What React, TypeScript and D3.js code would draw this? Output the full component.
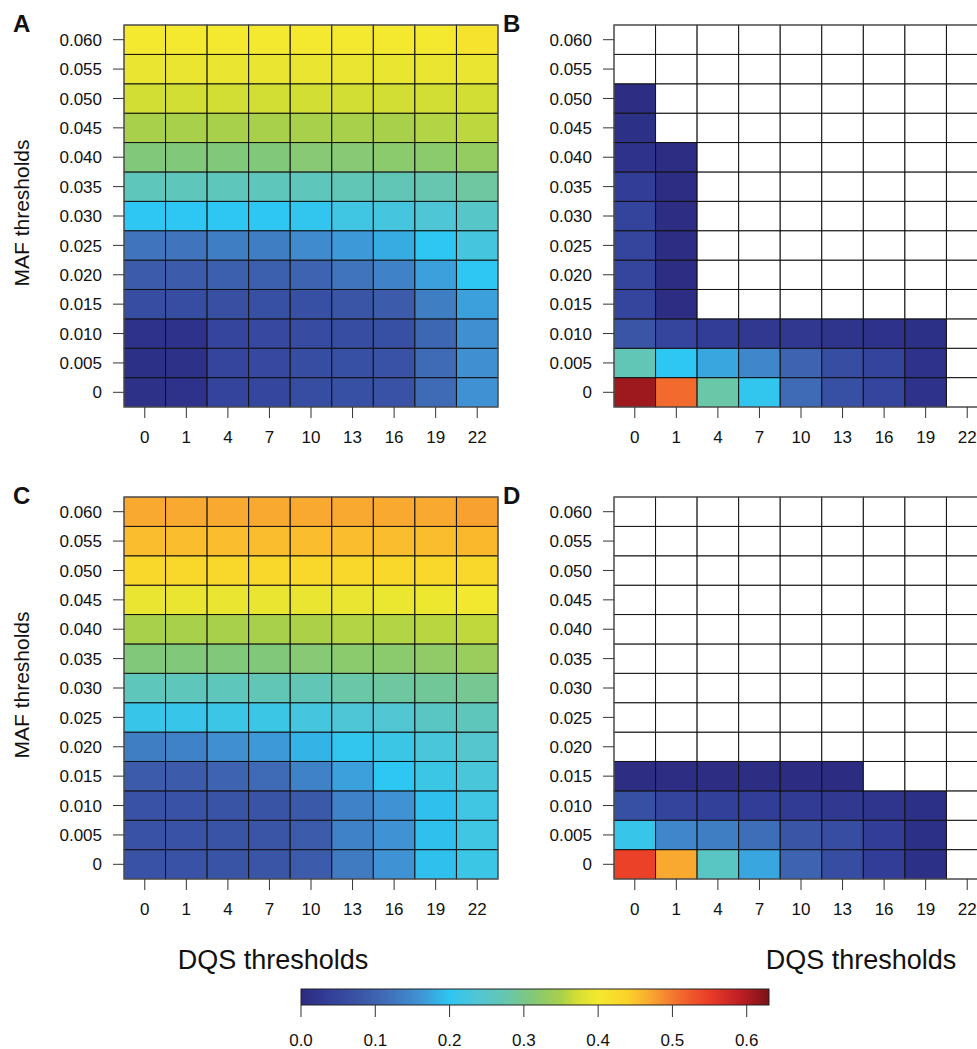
import React from "react";
import * as d3 from "d3";

const width = 977;
const height = 1049;

const dqsLabels = ["0", "1", "4", "7", "10", "13", "16", "19", "22"];
const mafLabels = ["0", "0.005", "0.010", "0.015", "0.020", "0.025", "0.030", "0.035", "0.040", "0.045", "0.050", "0.055", "0.060"];

// colour ramp of the legend
const stopValues = [0, 0.04, 0.08, 0.12, 0.16, 0.2, 0.24, 0.27, 0.31, 0.35, 0.37, 0.4, 0.44, 0.47, 0.51, 0.55, 0.59, 0.63];
const stopColors = ["#2b2a80", "#33409a", "#3a55a6", "#4071bb", "#3f93d4", "#2ec6f2", "#52c6d2", "#62c6b6", "#82c87a", "#a8d04a", "#d2de33", "#f4e92f", "#fbd229", "#f9a830", "#f26a2e", "#ea3b28", "#c01f24", "#7a1317"];
const legendTicks = [0, 0.1, 0.2, 0.3, 0.4, 0.5, 0.6];

// rows: MAF 0 -> 0.060, columns: DQS thresholds
const panelA = [
  [0.012, 0.015, 0.048, 0.052, 0.065, 0.07, 0.075, 0.11, 0.158],
  [0.01, 0.012, 0.05, 0.055, 0.065, 0.07, 0.075, 0.11, 0.155],
  [0.015, 0.015, 0.05, 0.055, 0.06, 0.065, 0.07, 0.105, 0.155],
  [0.065, 0.065, 0.068, 0.07, 0.07, 0.08, 0.09, 0.135, 0.17],
  [0.09, 0.09, 0.095, 0.095, 0.1, 0.125, 0.14, 0.17, 0.2],
  [0.125, 0.125, 0.135, 0.135, 0.15, 0.165, 0.18, 0.2, 0.225],
  [0.2, 0.2, 0.2, 0.2, 0.205, 0.22, 0.225, 0.235, 0.25],
  [0.265, 0.265, 0.265, 0.265, 0.265, 0.27, 0.27, 0.275, 0.285],
  [0.31, 0.31, 0.31, 0.31, 0.315, 0.315, 0.32, 0.32, 0.33],
  [0.35, 0.35, 0.35, 0.35, 0.35, 0.35, 0.35, 0.355, 0.36],
  [0.37, 0.37, 0.37, 0.37, 0.37, 0.37, 0.37, 0.37, 0.37],
  [0.39, 0.39, 0.39, 0.39, 0.39, 0.39, 0.39, 0.39, 0.39],
  [0.4, 0.4, 0.4, 0.4, 0.4, 0.4, 0.4, 0.4, 0.41],
];

const panelB = [
  [0.61, 0.51, 0.28, 0.205, 0.11, 0.07, 0.05, 0.015, null],
  [0.27, 0.2, 0.175, 0.145, 0.1, 0.065, 0.045, 0.015, null],
  [0.08, 0.05, 0.035, 0.025, 0.025, 0.02, 0.015, 0.01, null],
  [0.05, 0.005, null, null, null, null, null, null, null],
  [0.05, 0.005, null, null, null, null, null, null, null],
  [0.05, 0.005, null, null, null, null, null, null, null],
  [0.045, 0.005, null, null, null, null, null, null, null],
  [0.035, 0.005, null, null, null, null, null, null, null],
  [0.015, 0.005, null, null, null, null, null, null, null],
  [0.01, null, null, null, null, null, null, null, null],
  [0.005, null, null, null, null, null, null, null, null],
  [null, null, null, null, null, null, null, null, null],
  [null, null, null, null, null, null, null, null, null],
];

const panelC = [
  [0.075, 0.075, 0.078, 0.08, 0.09, 0.13, 0.16, 0.195, 0.215],
  [0.075, 0.075, 0.078, 0.08, 0.09, 0.14, 0.16, 0.195, 0.22],
  [0.075, 0.075, 0.078, 0.078, 0.085, 0.14, 0.16, 0.195, 0.22],
  [0.09, 0.09, 0.1, 0.11, 0.14, 0.17, 0.2, 0.215, 0.23],
  [0.135, 0.14, 0.155, 0.165, 0.185, 0.205, 0.215, 0.23, 0.245],
  [0.21, 0.21, 0.215, 0.215, 0.225, 0.235, 0.24, 0.255, 0.265],
  [0.265, 0.265, 0.265, 0.27, 0.27, 0.28, 0.285, 0.29, 0.295],
  [0.31, 0.31, 0.31, 0.31, 0.315, 0.32, 0.32, 0.325, 0.335],
  [0.35, 0.35, 0.35, 0.35, 0.352, 0.355, 0.355, 0.358, 0.362],
  [0.39, 0.39, 0.39, 0.39, 0.39, 0.39, 0.392, 0.395, 0.398],
  [0.43, 0.43, 0.43, 0.43, 0.43, 0.43, 0.43, 0.43, 0.43],
  [0.455, 0.455, 0.455, 0.455, 0.455, 0.455, 0.455, 0.455, 0.458],
  [0.47, 0.47, 0.47, 0.47, 0.47, 0.47, 0.47, 0.47, 0.475],
];

const panelD = [
  [0.545, 0.47, 0.255, 0.175, 0.1, 0.065, 0.035, 0.01, null],
  [0.21, 0.145, 0.135, 0.115, 0.08, 0.065, 0.035, 0.01, null],
  [0.07, 0.045, 0.04, 0.035, 0.03, 0.025, 0.02, 0.01, null],
  [0.005, 0.005, 0.005, 0.005, 0.003, 0.003, null, null, null],
  [null, null, null, null, null, null, null, null, null],
  [null, null, null, null, null, null, null, null, null],
  [null, null, null, null, null, null, null, null, null],
  [null, null, null, null, null, null, null, null, null],
  [null, null, null, null, null, null, null, null, null],
  [null, null, null, null, null, null, null, null, null],
  [null, null, null, null, null, null, null, null, null],
  [null, null, null, null, null, null, null, null, null],
  [null, null, null, null, null, null, null, null, null],
];

const font = "'Liberation Sans', Arial, Helvetica, sans-serif";
const plotW = 374;
const plotH = 382;

const color = d3
  .scaleLinear<string>()
  .domain(stopValues)
  .range(stopColors)
  .interpolate(d3.interpolateRgb)
  .clamp(true);

const xBand = d3.scaleBand().domain(dqsLabels).range([0, plotW]);
const yBand = d3.scaleBand().domain(mafLabels.slice().reverse()).range([0, plotH]);

const panels = [
  { letter: "A", data: panelA, x: 124, y: 25 },
  { letter: "B", data: panelB, x: 614, y: 25 },
  { letter: "C", data: panelC, x: 124, y: 497 },
  { letter: "D", data: panelD, x: 614, y: 497 },
];

const Panel = ({ p }) => (
  <g transform={`translate(${p.x},${p.y})`}>
    {p.data.map((row, i) =>
      row.map((v, j) => (
        <rect
          key={`${i}-${j}`}
          x={xBand(dqsLabels[j])}
          y={yBand(mafLabels[i])}
          width={xBand.bandwidth()}
          height={yBand.bandwidth()}
          fill={v == null ? "#ffffff" : color(v)}
          stroke="#111"
          strokeWidth={1}
        />
      ))
    )}
    <rect x={0} y={0} width={plotW} height={plotH} fill="none" stroke="#666" strokeWidth={1} />
    {mafLabels.map((m) => {
      const cy = yBand(m) + yBand.bandwidth() / 2;
      return (
        <g key={m}>
          <line x1={-11} x2={0} y1={cy} y2={cy} stroke="#333" />
          <text x={-22} y={cy} dy="0.36em" textAnchor="end" fontSize={17} fontFamily={font} fill="#111">
            {m}
          </text>
        </g>
      );
    })}
    {dqsLabels.map((d) => {
      const cx = xBand(d) + xBand.bandwidth() / 2;
      return (
        <g key={d}>
          <line x1={cx} x2={cx} y1={plotH} y2={plotH + 11} stroke="#333" />
          <text x={cx} y={plotH + 36} textAnchor="middle" fontSize={17} fontFamily={font} fill="#111">
            {d}
          </text>
        </g>
      );
    })}
    <text x={-111} y={7} fontSize={24} fontWeight="bold" fontFamily={font} fill="#111">
      {p.letter}
    </text>
  </g>
);

const legendX = d3.scaleLinear().domain([0, 0.63]).range([301, 769]);

export default function App() {
  return (
    <svg width={width} height={height} style={{ position: "absolute", left: 0, top: 0, background: "#fff" }}>
      <defs>
        <linearGradient id="ramp" x1="0" x2="1" y1="0" y2="0">
          {stopValues.map((v, i) => (
            <stop key={i} offset={`${(v / 0.63) * 100}%`} stopColor={stopColors[i]} />
          ))}
        </linearGradient>
      </defs>
      {panels.map((p) => (
        <Panel key={p.letter} p={p} />
      ))}
      <text transform="translate(29,213) rotate(-90)" textAnchor="middle" fontSize={21} fontFamily={font} fill="#111">
        MAF thresholds
      </text>
      <text transform="translate(29,685) rotate(-90)" textAnchor="middle" fontSize={21} fontFamily={font} fill="#111">
        MAF thresholds
      </text>
      <text x={273} y={969} textAnchor="middle" fontSize={27} fontFamily={font} fill="#111">
        DQS thresholds
      </text>
      <text x={861} y={969} textAnchor="middle" fontSize={27} fontFamily={font} fill="#111">
        DQS thresholds
      </text>
      <rect x={legendX(0)} y={989} width={legendX(0.63) - legendX(0)} height={16} fill="url(#ramp)" stroke="#222" strokeWidth={1} />
      {legendTicks.map((t) => (
        <g key={t}>
          <line x1={legendX(t)} x2={legendX(t)} y1={1005} y2={1017} stroke="#333" />
          <text x={legendX(t)} y={1046} textAnchor="middle" fontSize={17} fontFamily={font} fill="#111">
            {d3.format(".1f")(t)}
          </text>
        </g>
      ))}
    </svg>
  );
}
